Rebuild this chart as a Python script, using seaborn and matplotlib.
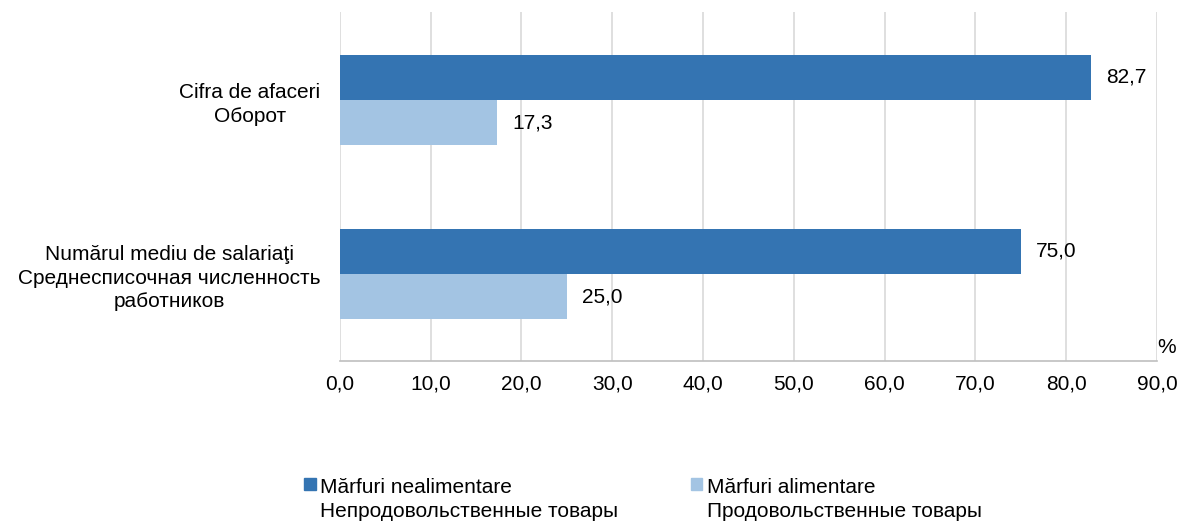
import matplotlib
matplotlib.use("Agg")
import matplotlib.pyplot as plt
import seaborn as sns
import pandas as pd

categories = ["Cifra de afaceri\nОборот",
              "Numărul mediu de salariaţi\nСреднесписочная численность\nработников"]
series = ["Mărfuri nealimentare\nНепродовольственные товары",
          "Mărfuri alimentare\nПродовольственные товары"]
nonfood = [82.7, 75.0]
food = [17.3, 25.0]
xticks = [0, 10, 20, 30, 40, 50, 60, 70, 80, 90]

colors = {series[0]: "#3474b2", series[1]: "#a3c4e3"}

df = pd.DataFrame({
    "cat": categories * 2,
    "serie": [series[0]] * 2 + [series[1]] * 2,
    "val": nonfood + food,
})

sns.set_style("white")
plt.rcParams["font.family"] = ["Liberation Sans", "DejaVu Sans"]
plt.rcParams["font.size"] = 15
plt.rcParams["text.color"] = "black"
plt.rcParams["xtick.color"] = "black"
plt.rcParams["ytick.color"] = "black"

fs = 15

fig = plt.figure(figsize=(11.8, 5.21), dpi=100)
ax = fig.add_axes([0.288, 0.307, 0.6925, 0.67])

sns.barplot(data=df, y="cat", x="val", hue="serie", orient="h",
            palette=colors, width=0.52, saturation=1, linewidth=0,
            ax=ax, legend=False)

for cont, vals in zip(ax.containers, [nonfood, food]):
    ax.bar_label(cont, labels=[f"{v:.1f}".replace(".", ",") for v in vals],
                 padding=11, fontsize=fs)

ax.set_xlim(0, 90)
ax.set_ylim(1.5, -0.506)
ax.set_xticks(xticks)
ax.set_xticklabels([f"{t:.1f}".replace(".", ",") for t in xticks], fontsize=fs)
ax.set_xlabel("")
ax.set_ylabel("")
ax.grid(axis="x", color="#d9d9d9", linewidth=1.2)
ax.set_axisbelow(True)
for s in ["top", "right", "left"]:
    ax.spines[s].set_visible(False)
ax.spines["bottom"].set_color("#bfbfbf")
ax.spines["bottom"].set_linewidth(1.2)
ax.tick_params(axis="x", length=0, pad=10)
ax.tick_params(axis="y", length=0, pad=14)
for lbl in ax.get_yticklabels():
    lbl.set_multialignment("center")
    lbl.set_linespacing(1.3)
    lbl.set_fontsize(fs)

ax.annotate("%", xy=(1, 0), xycoords="axes fraction", xytext=(0, 3),
            textcoords="offset points", fontsize=fs, ha="left", va="bottom")

handles = [plt.Rectangle((0, 0), 1, 1, color=colors[s]) for s in series]
leg = fig.legend(handles, series, loc="lower left", ncol=2, frameon=False,
                 bbox_to_anchor=(0.242, -0.036), handlelength=0.55,
                 handleheight=0.55, handletextpad=0.2, columnspacing=3.5,
                 fontsize=fs)
for t in leg.get_texts():
    t.set_linespacing(1.35)
for col in leg._legend_handle_box.get_children():
    for item in col.get_children():
        item.align = "top"

fig.savefig("out.png", dpi=100)
